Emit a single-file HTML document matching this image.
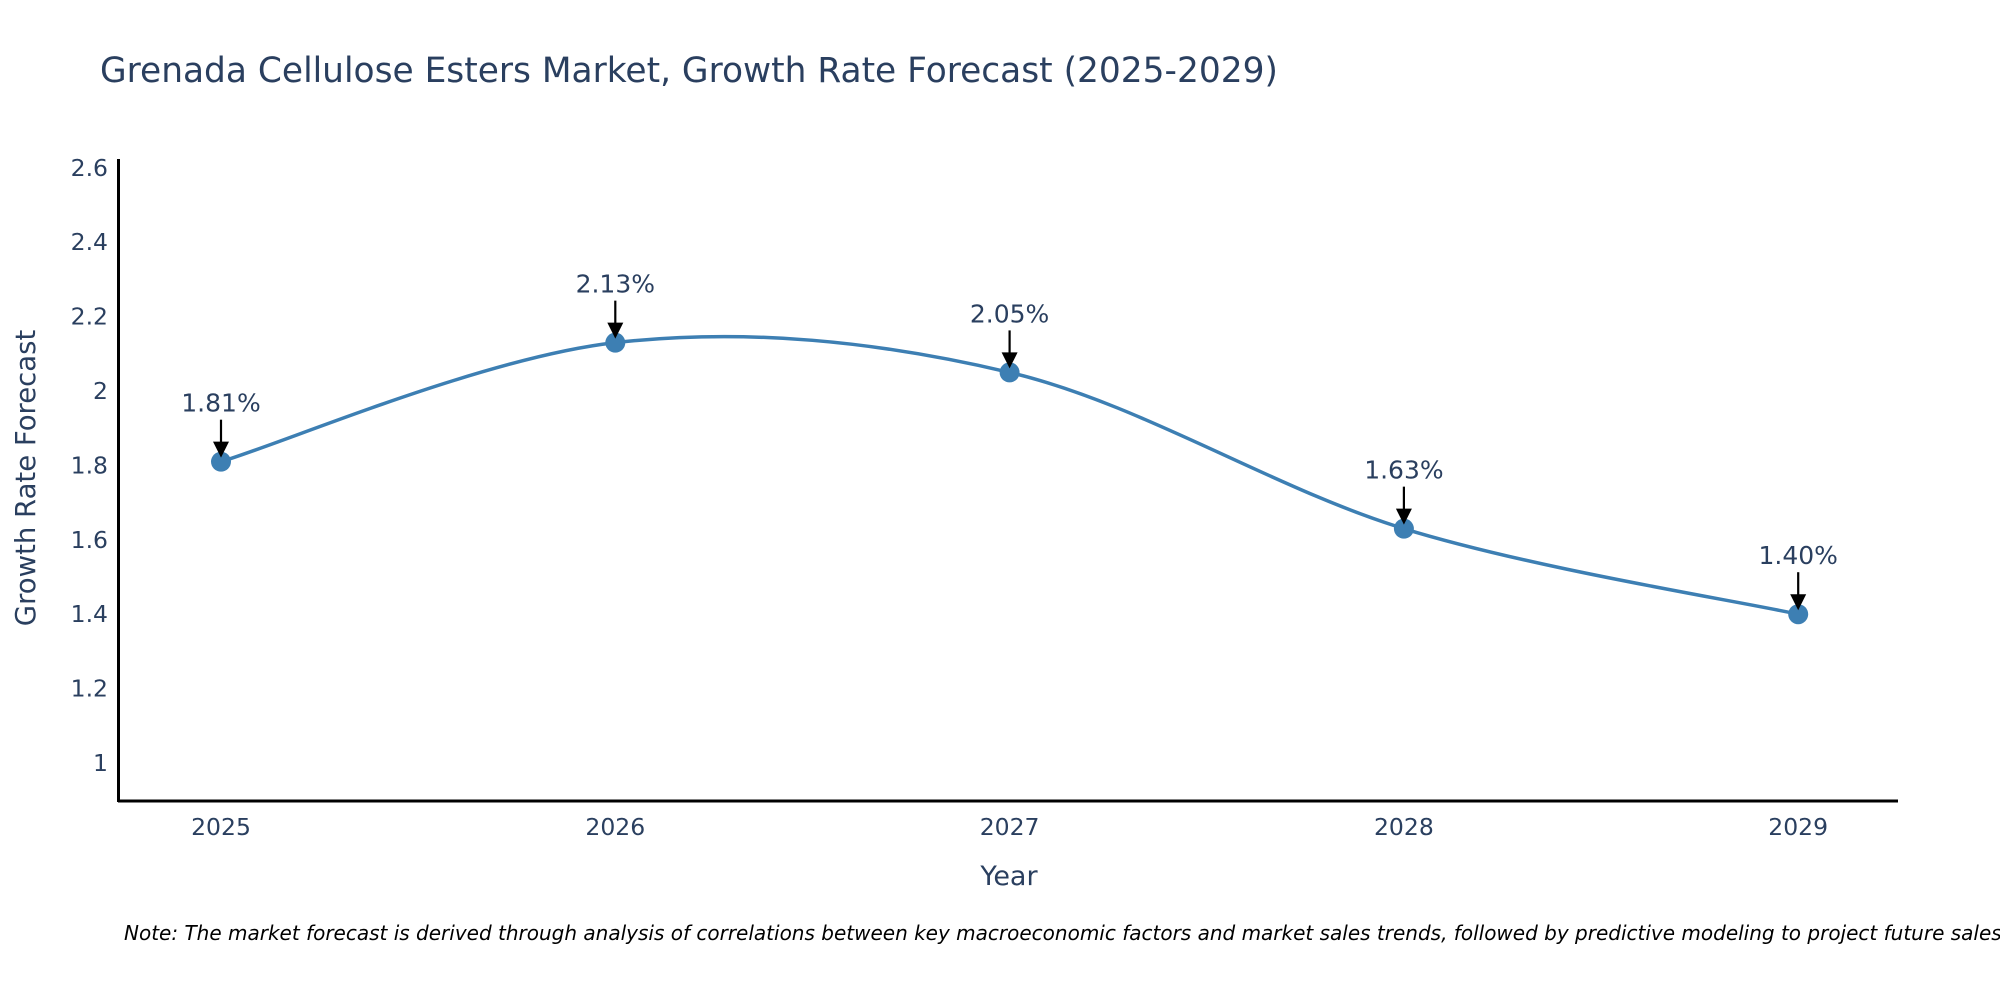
<!DOCTYPE html>
<html><head><meta charset="utf-8"><style>
html,body{margin:0;padding:0;background:#fff;}
svg{display:block;font-family:"DejaVu Sans","Liberation Sans",sans-serif;}
</style></head><body>
<svg id="chart" width="2000" height="1000" viewBox="0 0 2000 1000">
<text x="100" y="82" font-size="34.4" fill="#2a3f5f">Grenada Cellulose Esters Market, Growth Rate Forecast (2025-2029)</text>
<g id="yticks"></g>
<g id="xticks"></g>
<path id="line" fill="none" stroke="#3d7fb3" stroke-width="3.5"/>
<g id="points"></g>
<g id="annots"></g>
<line x1="118" y1="801" x2="1898" y2="801" stroke="#000" stroke-width="3"/>
<line x1="118.5" y1="159" x2="118.5" y2="802" stroke="#000" stroke-width="3"/>
<text x="1009" y="885" font-size="27" fill="#2a3f5f" text-anchor="middle">Year</text>
<text x="0" y="0" font-size="27.5" fill="#2a3f5f" text-anchor="middle" transform="translate(35,478) rotate(-90)">Growth Rate Forecast</text>
<text x="124" y="940" font-size="20" font-style="italic" fill="#000">Note: The market forecast is derived through analysis of correlations between key macroeconomic factors and market sales trends, followed by predictive modeling to project future sales.</text>
</svg>
<script>
const years = [2025, 2026, 2027, 2028, 2029];
const rates = [1.81, 2.13, 2.05, 1.63, 1.40];
const labels = ["1.81%", "2.13%", "2.05%", "1.63%", "1.40%"];
const yTicks = [1, 1.2, 1.4, 1.6, 1.8, 2, 2.2, 2.4, 2.6];
const yTickLabels = ["1", "1.2", "1.4", "1.6", "1.8", "2", "2.2", "2.4", "2.6"];

const NS = "http://www.w3.org/2000/svg";
const xS = v => 221 + (v - 2025) * 394.3;
const yS = v => 763 - (v - 1) * 372;
function mk(tag, attrs, parent, txt){const e=document.createElementNS(NS,tag);for(const k in attrs)e.setAttribute(k,attrs[k]);if(txt!==undefined)e.textContent=txt;parent.appendChild(e);return e;}

const yg=document.getElementById('yticks');
yTicks.forEach((t,i)=>{
  const el=mk('text',{x:108,y:yS(t)+8,'font-size':23.5,fill:'#2a3f5f','text-anchor':'end'},yg,yTickLabels[i]);
  
  
});
const xg=document.getElementById('xticks');
years.forEach(y=>{
  const el=mk('text',{x:xS(y),y:835,'font-size':23.5,fill:'#2a3f5f','text-anchor':'middle'},xg,String(y));
  
  
});

const pts=years.map((y,i)=>[xS(y),yS(rates[i])]);
let d=`M${pts[0][0]},${pts[0][1]}`;
const t=0.5;
for(let i=0;i<pts.length-1;i++){
  const p0=pts[Math.max(i-1,0)],p1=pts[i],p2=pts[i+1],p3=pts[Math.min(i+2,pts.length-1)];
  const c1=[p1[0]+(p2[0]-p0[0])*t/3,p1[1]+(p2[1]-p0[1])*t/3];
  const c2=[p2[0]-(p3[0]-p1[0])*t/3,p2[1]-(p3[1]-p1[1])*t/3];
  d+=` C${c1[0]},${c1[1]} ${c2[0]},${c2[1]} ${p2[0]},${p2[1]}`;
}
document.getElementById('line').setAttribute('d',d);

const pg=document.getElementById('points'), ag=document.getElementById('annots');
pts.forEach((p,i)=>{
  const c=mk('circle',{cx:p[0],cy:p[1],r:10,fill:'#3d7fb3'},pg);
  
  
  const l=mk('line',{x1:p[0],y1:p[1]-42,x2:p[0],y2:p[1]-18,stroke:'#000','stroke-width':2.2},ag);
  
  
  const h=mk('polygon',{points:`${p[0]-8},${p[1]-20} ${p[0]+8},${p[1]-20} ${p[0]},${p[1]-4}`,fill:'#000'},ag);
  
  
  const tx=mk('text',{x:p[0],y:p[1]-50,'font-size':25,fill:'#2a3f5f','text-anchor':'middle'},ag,labels[i]);
  
  
});
</script>
</body></html>
